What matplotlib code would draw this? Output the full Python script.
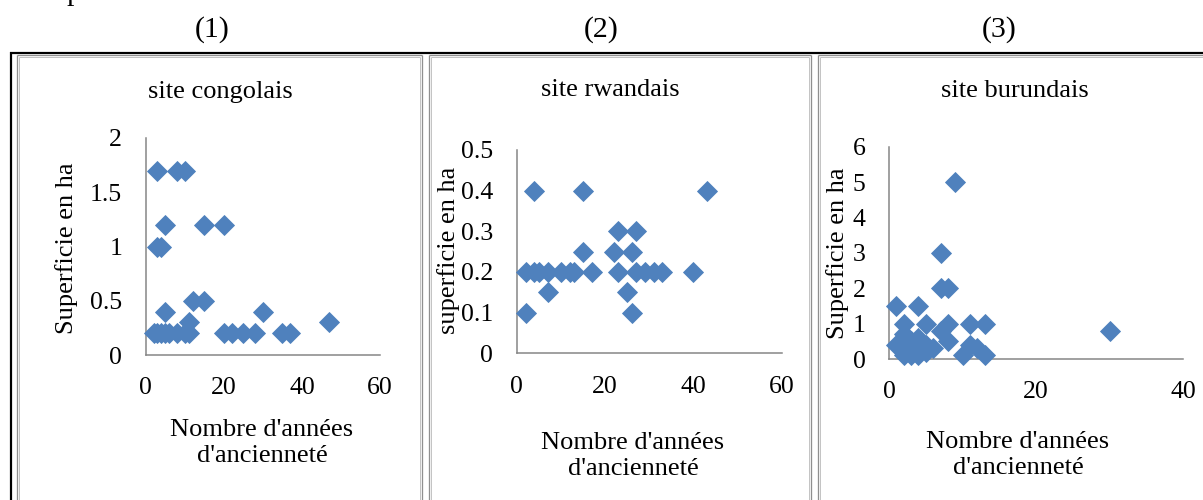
import matplotlib
matplotlib.use("Agg")
import matplotlib.pyplot as plt
from matplotlib.lines import Line2D

W, H = 1203, 500
plt.rcParams['font.family'] = ['Liberation Serif', 'DejaVu Serif']

# ---------------- data ----------------
panel_labels = ["(1)", "(2)", "(3)"]
titles = ["site congolais", "site rwandais", "site burundais"]
ylabels = ["Superficie en ha", "superficie en ha", "Superficie en ha"]
xlabel = "Nombre d'années\nd'ancienneté"

congo_x = [3, 8, 10, 5, 15, 20, 3, 4, 12, 15, 5, 30, 11, 47,
           2, 3, 4, 5, 6, 8, 10, 11, 20, 22, 25, 28, 35, 37]
congo_y = [1.7, 1.7, 1.7, 1.2, 1.2, 1.2, 1.0, 1.0, 0.5, 0.5, 0.4, 0.4, 0.3, 0.3,
           0.2, 0.2, 0.2, 0.2, 0.2, 0.2, 0.2, 0.2, 0.2, 0.2, 0.2, 0.2, 0.2, 0.2]

rwanda_x = [4, 15, 43, 23, 27, 15, 22, 26,
            2, 4, 5, 7, 10, 12, 13, 17, 23, 27, 29, 31, 33, 40,
            7, 25, 2, 26]
rwanda_y = [0.4, 0.4, 0.4, 0.3, 0.3, 0.25, 0.25, 0.25,
            0.2, 0.2, 0.2, 0.2, 0.2, 0.2, 0.2, 0.2, 0.2, 0.2, 0.2, 0.2, 0.2, 0.2,
            0.15, 0.15, 0.1, 0.1]

burundi_x = [9, 7, 7, 8, 1, 4, 2, 5, 8, 11, 13, 30, 7, 8, 10, 11, 12, 13,
             1, 2, 2, 2, 2, 3, 3, 3, 4, 4, 4, 4, 5, 5, 6]
burundi_y = [5, 3, 2, 2, 1.5, 1.5, 1, 1, 1, 1, 1, 0.8, 0.8, 0.5, 0.1, 0.4, 0.3, 0.1,
             0.4, 0.7, 0.4, 0.2, 0.1, 0.5, 0.3, 0.1, 0.6, 0.4, 0.2, 0.1, 0.2, 0.4, 0.3]

xticks = [[0, 20, 40, 60], [0, 20, 40, 60], [0, 20, 40]]
xticklabels = [["0", "20", "40", "60"], ["0", "20", "40", "60"], ["0", "20", "40"]]
yticks = [[0, 0.5, 1, 1.5, 2], [0, 0.1, 0.2, 0.3, 0.4, 0.5], [0, 1, 2, 3, 4, 5, 6]]
yticklabels = [["0", "0.5", "1", "1.5", "2"],
               ["0", "0.1", "0.2", "0.3", "0.4", "0.5"],
               ["0", "1", "2", "3", "4", "5", "6"]]
xlims = [(0, 60), (0, 60), (0, 40)]
ylims = [(0, 2), (0, 0.5), (0, 6)]

# ---------------- layout (pixel based) ----------------
axes_px = [(145.7, 380.0, 355.0, 138.0),
           (516.7, 781.7, 353.3, 150.0),
           (889.0, 1183.3, 359.0, 146.7)]
plabel_pos = [(212, 30), (601, 30), (999, 30)]
title_pos = [(220, 92), (610, 90), (1015, 91)]
ylabel_pos = [(67, 248), (449, 250), (838, 253)]
xlabel_pos = [(262, 443), (633, 456), (1018, 455)]

BLUE = "#4F81BD"
GREY = "#868686"

fig = plt.figure(figsize=(W / 100, H / 100), dpi=100)

def fx(x):
    return x / W

def fy(y):
    return 1 - y / H

datasets = [(congo_x, congo_y), (rwanda_x, rwanda_y), (burundi_x, burundi_y)]

for i in range(3):
    l, r, b, t = axes_px[i]
    ax = fig.add_axes([fx(l), fy(b), (r - l) / W, (b - t) / H])
    xs, ys = datasets[i]
    ax.plot(xs, ys, linestyle="none", marker="D", markersize=10,
            markerfacecolor=BLUE, markeredgecolor=BLUE, markeredgewidth=0.6,
            clip_on=False, zorder=3)
    ax.set_xlim(*xlims[i])
    ax.set_ylim(*ylims[i])
    ax.set_xticks(xticks[i])
    ax.set_xticklabels(xticklabels[i])
    ax.set_yticks(yticks[i])
    ax.set_yticklabels(yticklabels[i])
    ax.tick_params(axis="both", length=0, labelsize=18.5, colors="black")
    ax.tick_params(axis="y", pad=17)
    ax.tick_params(axis="x", pad=16)
    for s in ["top", "right"]:
        ax.spines[s].set_visible(False)
    for s in ["left", "bottom"]:
        ax.spines[s].set_color(GREY)
        ax.spines[s].set_linewidth(1.1)
        ax.spines[s].set_zorder(1)
    ax.patch.set_alpha(0)

    fig.text(fx(plabel_pos[i][0]), fy(plabel_pos[i][1]), panel_labels[i],
             ha="center", va="center", fontsize=21.5)
    fig.text(fx(title_pos[i][0]), fy(title_pos[i][1]), titles[i],
             ha="center", va="center", fontsize=19)
    fig.text(fx(ylabel_pos[i][0]), fy(ylabel_pos[i][1]), ylabels[i],
             ha="center", va="center", rotation=90, fontsize=19)
    fig.text(fx(xlabel_pos[i][0]), fy(xlabel_pos[i][1]), xlabel,
             ha="center", va="center", fontsize=19, linespacing=1.28,
             multialignment="center")

# cut-off letter from the preceding text line
fig.text(fx(66), fy(0.5), "p", ha="left", va="baseline", fontsize=21.5)

# ---------------- frames ----------------
def hline(x0, x1, y, color, lw_px):
    fig.add_artist(Line2D([fx(x0), fx(x1)], [fy(y), fy(y)], color=color,
                          linewidth=lw_px * 0.72, transform=fig.transFigure,
                          solid_capstyle="butt"))

def vline(x, y0, y1, color, lw_px):
    fig.add_artist(Line2D([fx(x), fx(x)], [fy(y0), fy(y1)], color=color,
                          linewidth=lw_px * 0.72, transform=fig.transFigure,
                          solid_capstyle="butt"))

# black outer lines
hline(10, W, 53, "black", 2.2)
vline(11, 52, H, "black", 2.2)

# grey double frames of each panel
frames = [(17, 422), (428.5, 811), (817.5, W + 5)]
for (x0, x1) in frames:
    hline(x0, x1, 55, "#8f8f8f", 1.3)
    hline(x0 + 2, x1 - 2, 57, "#c4c4c4", 1.0)
    vline(x0, 55, H, "#8f8f8f", 1.3)
    vline(x0 + 2, 57, H, "#c4c4c4", 1.0)
    if x1 < W:
        vline(x1, 55, H, "#8f8f8f", 1.3)
        vline(x1 - 2, 57, H, "#c4c4c4", 1.0)

fig.savefig("out.png", dpi=100)
